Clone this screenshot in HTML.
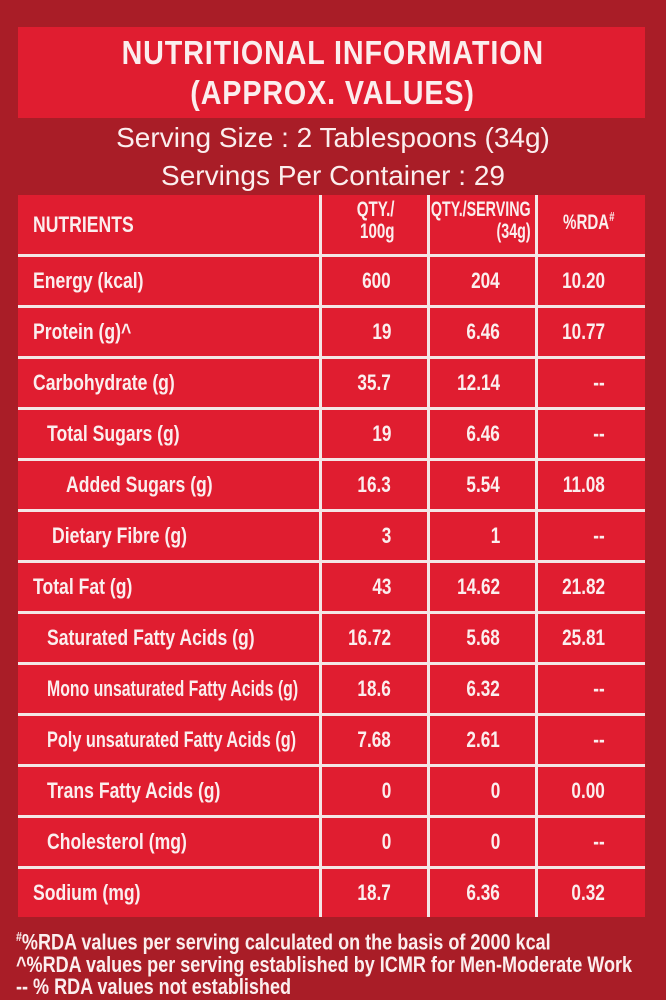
<!DOCTYPE html>
<html><head><meta charset="utf-8"><style>
*{margin:0;padding:0;box-sizing:border-box}
body{width:666px;height:1000px;background:#a91d27;position:relative;overflow:hidden;font-family:"Liberation Sans",sans-serif;color:#fbeeee}
.abs{position:absolute;white-space:nowrap;font-weight:bold}
.box{position:absolute;background:#e01d30}
.vl{position:absolute;background:#f4e6e6;width:3px}
.hl{position:absolute;background:#f4e6e6;height:3px;left:18px;width:627px}
.row{position:absolute;left:0;width:666px;height:50px;font-size:22px;font-weight:bold}
.row span{position:absolute;top:50%;white-space:nowrap}
.n{transform:translateY(-50%) scaleX(.8);transform-origin:left center}
.v1{right:275px;transform:translateY(-50%) scaleX(.78);transform-origin:right center}
.v2{right:166px;transform:translateY(-50%) scaleX(.78);transform-origin:right center}
.v3{right:61px;transform:translateY(-50%) scaleX(.78);transform-origin:right center}
</style></head><body>
<div class="box" style="left:18px;top:27px;width:627px;height:91px"></div>
<div class="abs" style="left:0;width:666px;top:33px;text-align:center;font-size:33px;line-height:40px">
<span style="display:inline-block;transform:scaleX(.87);letter-spacing:1px">NUTRITIONAL INFORMATION</span><br>
<span style="display:inline-block;transform:scaleX(.87);letter-spacing:1px">(APPROX. VALUES)</span></div>
<div class="abs" style="left:0;width:666px;top:119px;text-align:center;font-size:28px;line-height:38px;font-weight:normal">
Serving Size : 2 Tablespoons (34g)<br>Servings Per Container : 29</div>
<div class="box" style="left:18px;top:195px;width:627px;height:722px"></div>
<div class="vl" style="left:319px;top:195px;height:722px"></div>
<div class="vl" style="left:427px;top:195px;height:722px"></div>
<div class="vl" style="left:535px;top:195px;height:722px"></div>
<div class="hl" style="top:254px"></div><div class="hl" style="top:305px"></div><div class="hl" style="top:356px"></div><div class="hl" style="top:407px"></div><div class="hl" style="top:458px"></div><div class="hl" style="top:509px"></div><div class="hl" style="top:560px"></div><div class="hl" style="top:611px"></div><div class="hl" style="top:662px"></div><div class="hl" style="top:713px"></div><div class="hl" style="top:764px"></div><div class="hl" style="top:815px"></div><div class="hl" style="top:866px"></div>
<div class="abs" style="left:33px;top:212px;font-size:22px;transform:scaleX(.8);transform-origin:left top">NUTRIENTS</div>
<div class="abs" style="right:271px;top:199px;font-size:21px;line-height:22px;text-align:right;transform:scaleX(.72);transform-origin:right top">QTY./<br>100g</div>
<div class="abs" style="right:135px;top:199px;font-size:21px;line-height:22px;text-align:right;transform:scaleX(.68);transform-origin:right top">QTY./SERVING<br>(34g)</div>
<div class="abs" style="left:563px;top:209px;font-size:21px;transform:scaleX(.72);transform-origin:left top">%RDA<sup style="font-size:13px">#</sup></div>
<div class="row" style="top:256px"><span class="n" style="left:33px">Energy (kcal)</span><span class="v1">600</span><span class="v2">204</span><span class="v3">10.20</span></div>
<div class="row" style="top:307px"><span class="n" style="left:33px">Protein (g)^</span><span class="v1">19</span><span class="v2">6.46</span><span class="v3">10.77</span></div>
<div class="row" style="top:358px"><span class="n" style="left:33px">Carbohydrate (g)</span><span class="v1">35.7</span><span class="v2">12.14</span><span class="v3">--</span></div>
<div class="row" style="top:409px"><span class="n" style="left:47px">Total Sugars (g)</span><span class="v1">19</span><span class="v2">6.46</span><span class="v3">--</span></div>
<div class="row" style="top:460px"><span class="n" style="left:66px">Added Sugars (g)</span><span class="v1">16.3</span><span class="v2">5.54</span><span class="v3">11.08</span></div>
<div class="row" style="top:511px"><span class="n" style="left:52px">Dietary Fibre (g)</span><span class="v1">3</span><span class="v2">1</span><span class="v3">--</span></div>
<div class="row" style="top:562px"><span class="n" style="left:33px">Total Fat (g)</span><span class="v1">43</span><span class="v2">14.62</span><span class="v3">21.82</span></div>
<div class="row" style="top:613px"><span class="n" style="left:47px">Saturated Fatty Acids (g)</span><span class="v1">16.72</span><span class="v2">5.68</span><span class="v3">25.81</span></div>
<div class="row" style="top:664px"><span class="n" style="left:47px;transform:translateY(-50%) scaleX(.72)">Mono unsaturated Fatty Acids (g)</span><span class="v1">18.6</span><span class="v2">6.32</span><span class="v3">--</span></div>
<div class="row" style="top:715px"><span class="n" style="left:47px;transform:translateY(-50%) scaleX(.74)">Poly unsaturated Fatty Acids (g)</span><span class="v1">7.68</span><span class="v2">2.61</span><span class="v3">--</span></div>
<div class="row" style="top:766px"><span class="n" style="left:47px">Trans Fatty Acids (g)</span><span class="v1">0</span><span class="v2">0</span><span class="v3">0.00</span></div>
<div class="row" style="top:817px"><span class="n" style="left:47px">Cholesterol (mg)</span><span class="v1">0</span><span class="v2">0</span><span class="v3">--</span></div>
<div class="row" style="top:868px"><span class="n" style="left:33px">Sodium (mg)</span><span class="v1">18.7</span><span class="v2">6.36</span><span class="v3">0.32</span></div>
<div class="abs" style="left:16px;top:926px;font-size:22px;line-height:22.5px;transform:scaleX(.82);transform-origin:left top">
<sup style="font-size:13px">#</sup>%RDA values per serving calculated on the basis of 2000 kcal<br>
^%RDA values per serving established by ICMR for Men-Moderate Work<br>
-- % RDA values not established</div>
</body></html>
